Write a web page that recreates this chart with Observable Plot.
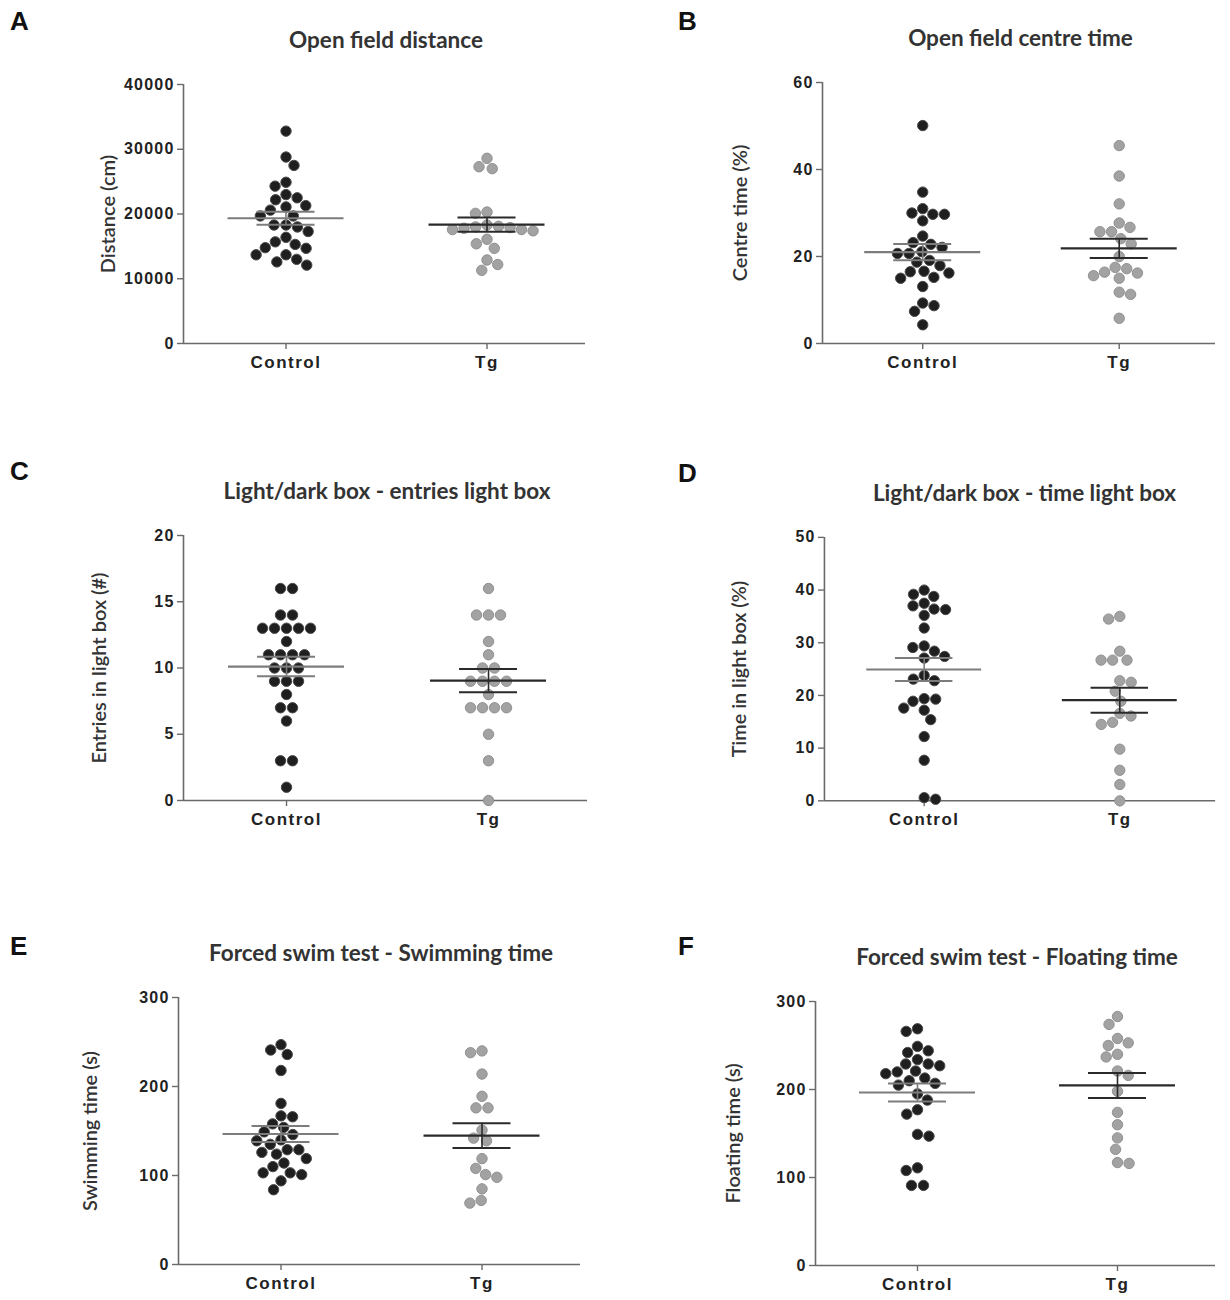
<!DOCTYPE html>
<html><head><meta charset="utf-8">
<script src="https://cdn.jsdelivr.net/npm/d3@7"></script>
<script src="https://cdn.jsdelivr.net/npm/@observablehq/plot@0.6"></script>
<style>
body{margin:0;background:#fff;}
#root{position:relative;width:1230px;height:1300px;overflow:hidden;}
.panel{position:absolute;}
.title{position:absolute;font-family:Lato,"Open Sans",sans-serif;font-weight:700;font-size:22.5px;line-height:1;color:#333;transform:translate(-50%,-50%);white-space:nowrap;}
.letter{position:absolute;font-family:"Liberation Sans",Arial,sans-serif;font-weight:700;font-size:26px;line-height:1;color:#111;}
svg g[aria-label="y-axis tick label"]{fill:#222;letter-spacing:1.2px;}
svg g[aria-label="x-axis tick label"]{fill:#222;letter-spacing:1.5px;}
</style></head><body><div id="root"></div>
<script>
// ---- data ----
const groups = ["Control", "Tg"];
const panelLetters = ["A", "B", "C", "D", "E", "F"];
const titles = [
  "Open field distance",
  "Open field centre time",
  "Light/dark box - entries light box",
  "Light/dark box - time light box",
  "Forced swim test - Swimming time",
  "Forced swim test - Floating time"
];
const yLabels = [
  "Distance (cm)",
  "Centre time (%)",
  "Entries in light box (#)",
  "Time in light box (%)",
  "Swimming time (s)",
  "Floating time (s)"
];
const yTicksA = [0, 10000, 20000, 30000, 40000];
const yTicksB = [0, 20, 40, 60];
const yTicksC = [0, 5, 10, 15, 20];
const yTicksD = [0, 10, 20, 30, 40, 50];
const yTicksE = [0, 100, 200, 300];
const yTicksF = [0, 100, 200, 300];

const aControl = [32800, 28800, 27500, 24900, 24300, 23000, 22200, 22500, 21100, 21300, 20600, 19700, 19700, 18300, 18000, 18300, 17300, 16400, 15700, 15300, 14800, 14700, 13700, 13700, 13000, 12600, 12100];
const aTg = [28600, 27000, 27300, 20300, 20100, 18100, 17900, 17600, 17400, 17600, 17800, 18000, 18300, 15400, 16100, 14700, 12900, 12200, 11300];

const bControl = [50.1, 34.8, 31.0, 29.7, 29.7, 30.0, 28.2, 24.7, 22.8, 23.2, 22.1, 20.7, 20.7, 21.1, 19.1, 17.9, 18.7, 16.5, 16.2, 16.6, 15.2, 15.0, 13.1, 8.7, 9.3, 7.4, 4.3];
const bTg = [45.5, 38.5, 32.1, 27.7, 26.7, 25.7, 25.7, 24.1, 22.9, 20.0, 17.2, 16.2, 15.0, 15.6, 16.4, 17.5, 11.8, 11.3, 5.8];

const cControl = [16, 16, 14, 14, 13, 13, 13, 13, 13, 12, 11, 11, 11, 11, 10, 10, 10, 9, 9, 9, 8, 7, 7, 6, 3, 3, 1];
const cTg = [16, 14, 14, 14, 12, 11, 10, 10, 9, 9, 9, 9, 8, 7, 7, 7, 7, 5, 3, 0];

const dControl = [40.0, 39.2, 38.8, 37.5, 37.0, 36.3, 36.4, 35.2, 32.8, 29.4, 28.4, 29.1, 27.1, 27.4, 23.8, 23.1, 22.8, 19.4, 18.9, 19.3, 17.2, 17.6, 15.4, 12.2, 7.7, 0.3, 0.6];
const dTg = [35.0, 34.5, 28.4, 26.7, 26.7, 26.7, 22.8, 22.5, 20.8, 18.9, 16.6, 16.1, 14.9, 14.5, 9.8, 5.8, 3.1, 0];

const eControl = [247, 241, 236, 218, 181, 167, 166, 158, 154, 149, 146, 140, 139, 135, 129, 129, 126, 124, 119, 114, 110, 103, 103, 101, 94, 84];
const eTg = [240, 238, 214, 189, 176, 176, 151, 142, 139, 119, 108, 101, 98, 85, 72, 69];

const fControl = [269, 266, 249, 244, 242, 234, 229, 229, 227, 221, 220, 218, 213, 210, 207, 205, 195, 188, 177, 172, 149, 147, 111, 108, 91, 91];
const fTg = [283, 274, 258, 253, 250, 240, 237, 221, 216, 198, 174, 160, 145, 132, 117, 116];

// ---- layout (frame edges in page pixels) ----
const layout = [
  {L: 183, R: 585, T: 84, B: 343, labelDx: -75, letterX: 10, letterY: 8},
  {L: 822, R: 1215, T: 82, B: 343, labelDx: -82, letterX: 678, letterY: 8},
  {L: 183, R: 587, T: 535, B: 800, labelDx: -84, letterX: 10, letterY: 458},
  {L: 825, R: 1220, T: 537, B: 803, labelDx: -86, letterX: 678, letterY: 460},
  {L: 178, R: 580, T: 997, B: 1264, labelDx: -88, letterX: 10, letterY: 933},
  {L: 815, R: 1215, T: 1001, B: 1265, labelDx: -82, letterX: 678, letterY: 933}
];
const panels = [
  {values: [aControl, aTg], ticks: yTicksA},
  {values: [bControl, bTg], ticks: yTicksB},
  {values: [cControl, cTg], ticks: yTicksC},
  {values: [dControl, dTg], ticks: yTicksD},
  {values: [eControl, eTg], ticks: yTicksE},
  {values: [fControl, fTg], ticks: yTicksF}
];
const groupStyle = [
  {fill: "#1f1f1f", stroke: "#4a4a4a", bar: "#7c7c7c"},
  {fill: "#a2a2a2", stroke: "#919191", bar: "#2a2a2a"}
];
const xDomain = [-0.51, 1.49];
const DOT_R = 5.2, SPACING = 12, MIN_DIST = 11.6, TIE_PX = 0.5;
const MEAN_HALF_PX = 58, CAP_HALF_PX = 29;

// Scatter (beeswarm) layout in pixel offsets: exact ties centred in a row, others dodge symmetrically
function swarm(vals, ppu) {
  const sorted = [...vals].sort((a, b) => b - a);
  const clusters = [];
  let cur = null;
  for (const v of sorted) {
    if (!cur || (cur[0] - v) * ppu > TIE_PX) { cur = [v]; clusters.push(cur); } else cur.push(v);
  }
  const placed = [];
  let lastSign = -1;
  const fits = (x, v) => placed.every(q => Math.hypot(x - q.off, (q.v - v) * ppu) >= MIN_DIST - 1e-6);
  const preferSign = v => {
    const bal = d3.sum(placed.filter(q => Math.abs((q.v - v) * ppu) < 2.5 * MIN_DIST), q => q.off);
    if (Math.abs(bal) > 0.5) return -Math.sign(bal);
    lastSign = -lastSign;
    return lastSign;
  };
  const placeOne = v => {
    const near = placed.filter(q => Math.abs((q.v - v) * ppu) < MIN_DIST);
    const cands = [0];
    for (const q of near) {
      const dy = (q.v - v) * ppu;
      const dx = Math.sqrt(MIN_DIST * MIN_DIST - dy * dy) + 0.01;
      cands.push(q.off + dx, q.off - dx);
    }
    const ok = cands.filter(x => fits(x, v));
    const sgn = preferSign(v);
    ok.sort((a, b) => (Math.abs(a) - Math.abs(b)) || (Math.sign(b) === sgn) - (Math.sign(a) === sgn));
    let x = ok[0];
    const alt = ok.find(y => Math.sign(y) === sgn && Math.abs(y) - Math.abs(x) < 4);
    if (alt !== undefined && x !== 0) x = alt;
    placed.push({v, off: x});
  };
  for (const cl of clusters) {
    if (cl.length > 1) {
      const n = cl.length;
      const base = cl.map((v, i) => ({v, off: (i - (n - 1) / 2) * SPACING}));
      const sgn = preferSign(cl[0]);
      let done = false;
      for (const s of [0, sgn * SPACING / 2, -sgn * SPACING / 2]) {
        if (base.every(p => fits(p.off + s, p.v))) {
          placed.push(...base.map(p => ({v: p.v, off: p.off + s})));
          done = true; break;
        }
      }
      if (!done) cl.forEach(placeOne);
      continue;
    }
    placeOne(cl[0]);
  }
  return placed;
}

const root = document.getElementById("root");
const mL = 110, mR = 15, mT = 12, mB = 48;

panels.forEach((p, pi) => {
  const c = layout[pi];
  const width = (c.R - c.L) + mL + mR;
  const height = (c.B - c.T) + mT + mB;
  const yMax = d3.max(p.ticks);
  const stepPx = (c.R - c.L) / (xDomain[1] - xDomain[0]);
  const pxPerUnit = (c.B - c.T) / yMax;

  const marks = [
    Plot.ruleY([0], {stroke: "#6a6a6a", strokeWidth: 1.6}),
    Plot.ruleX([xDomain[0]], {stroke: "#6a6a6a", strokeWidth: 1.6}),
    Plot.axisY({ticks: p.ticks, tickFormat: "d", tickSize: 6, tickPadding: 3, label: null,
      color: "#6a6a6a", strokeWidth: 1.4, fontSize: 16, fontWeight: "bold", fontFamily: "Liberation Sans, Arial, sans-serif"}),
    Plot.axisX({ticks: [0, 1], tickFormat: i => groups[i], tickSize: 6, tickPadding: 6, label: null,
      color: "#6a6a6a", strokeWidth: 1.4, fontSize: 17, fontWeight: "bold", fontFamily: "Liberation Sans, Arial, sans-serif"}),
    Plot.text([yLabels[pi]], {frameAnchor: "left", dx: c.labelDx, rotate: -90, textAnchor: "middle",
      fontSize: 20, fontWeight: 600, fontFamily: "Lato, 'Open Sans', sans-serif", fill: "#333"})
  ];

  groups.forEach((g, gi) => {
    const vals = p.values[gi];
    const pts = swarm(vals, pxPerUnit).map(d => ({v: d.v, x: gi + d.off / stepPx}));
    const mean = d3.mean(vals);
    const sem = d3.deviation(vals) / Math.sqrt(vals.length);
    const st = groupStyle[gi];
    marks.push(Plot.dot(pts, {x: "x", y: "v", r: DOT_R, fill: st.fill, stroke: st.stroke, strokeWidth: 1}));
    const stat = [{gi, mean, lo: mean - sem, hi: mean + sem}];
    marks.push(Plot.ruleY(stat, {y: "mean", x1: d => d.gi - MEAN_HALF_PX / stepPx, x2: d => d.gi + MEAN_HALF_PX / stepPx, stroke: st.bar, strokeWidth: 2.2}));
    marks.push(Plot.ruleY(stat, {y: "lo", x1: d => d.gi - CAP_HALF_PX / stepPx, x2: d => d.gi + CAP_HALF_PX / stepPx, stroke: st.bar, strokeWidth: 2}));
    marks.push(Plot.ruleY(stat, {y: "hi", x1: d => d.gi - CAP_HALF_PX / stepPx, x2: d => d.gi + CAP_HALF_PX / stepPx, stroke: st.bar, strokeWidth: 2}));
    marks.push(Plot.ruleX(stat, {x: "gi", y1: "lo", y2: "hi", stroke: st.bar, strokeWidth: 1.6}));
  });

  const svg = Plot.plot({
    width, height, marginLeft: mL, marginRight: mR, marginTop: mT, marginBottom: mB,
    x: {domain: xDomain, axis: null},
    y: {domain: [0, yMax], axis: null},
    style: {background: "transparent", overflow: "visible", fontFamily: "Liberation Sans, Arial, sans-serif"},
    marks
  });
  const div = document.createElement("div");
  div.className = "panel";
  div.style.left = (c.L - mL) + "px";
  div.style.top = (c.T - mT) + "px";
  div.appendChild(svg);
  root.appendChild(div);

  const t = document.createElement("div");
  t.className = "title";
  t.textContent = titles[pi];
  t.style.left = ((c.L + c.R) / 2 + 2) + "px";
  t.style.top = (c.T - 44) + "px";
  root.appendChild(t);

  const l = document.createElement("div");
  l.className = "letter";
  l.textContent = panelLetters[pi];
  l.style.left = c.letterX + "px";
  l.style.top = c.letterY + "px";
  root.appendChild(l);
});
</script>
</body></html>
